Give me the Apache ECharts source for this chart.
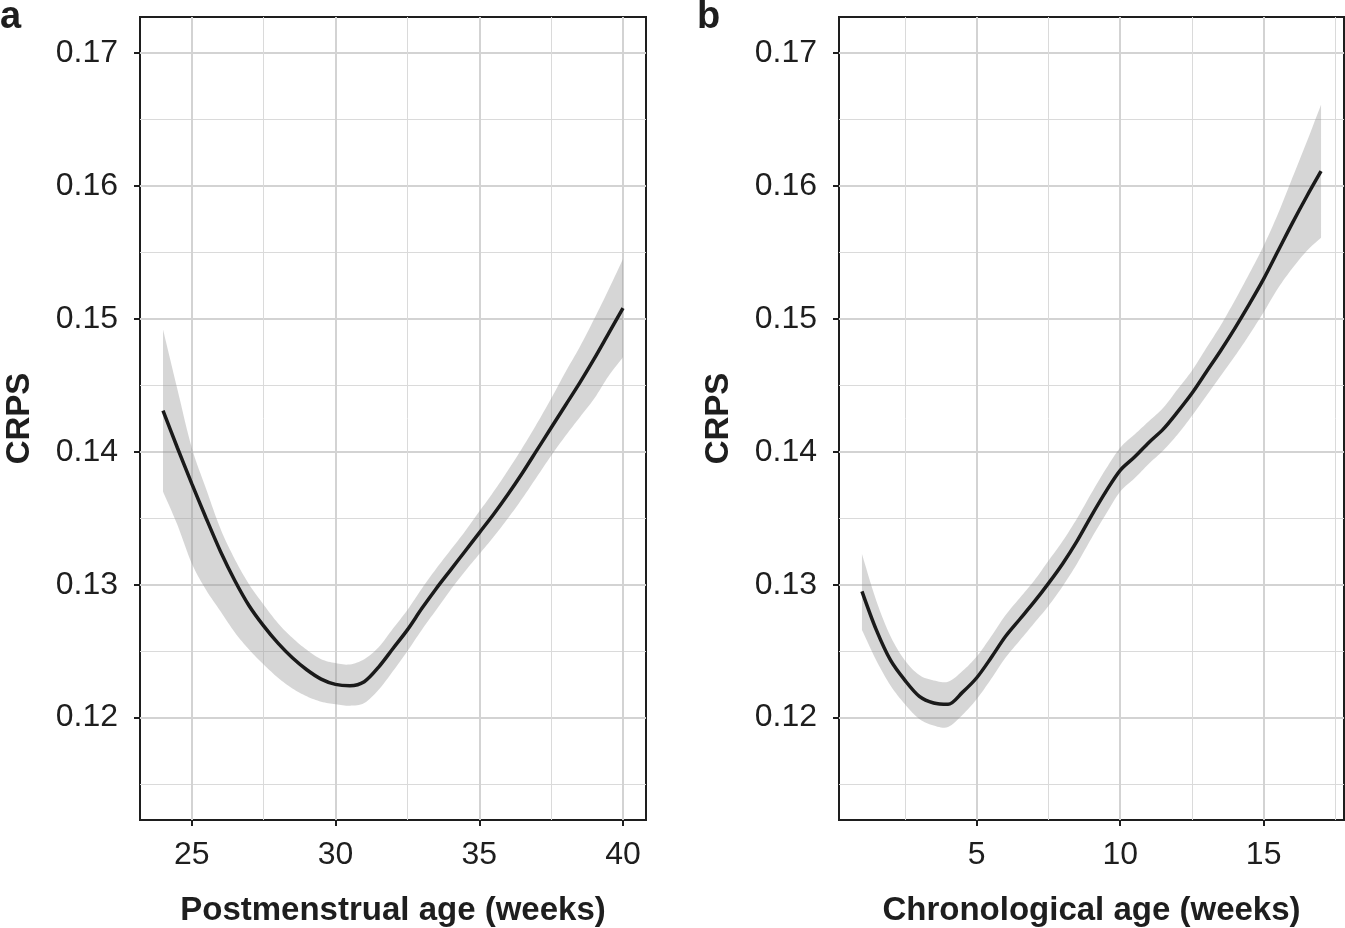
<!DOCTYPE html>
<html>
<head>
<meta charset="utf-8">
<script src="https://cdn.jsdelivr.net/npm/echarts@6/dist/echarts.min.js"></script>
<style>
html,body{margin:0;padding:0;background:#ffffff;}
#chart{width:1345px;height:928px;}
</style>
</head>
<body>
<div id="chart"></div>
<script>
// ---------- Data ----------
// Panel a: Postmenstrual age (weeks)
const pmaWeeks = [24,24.5,25,25.5,26,26.5,27,27.5,28,28.5,29,29.5,30,30.5,31,31.5,32,32.5,33,33.5,34,34.5,35,35.5,36,36.5,37,37.5,38,38.5,39,39.5,40];
const pmaFit   = [0.1431,0.1403,0.1376,0.1350,0.1325,0.1303,0.1284,0.1269,0.1256,0.1245,0.1236,0.1229,0.1225,0.1224,0.1227,0.1238,0.1252,0.1266,0.1282,0.1297,0.1311,0.1325,0.1339,0.1353,0.1368,0.1384,0.1401,0.1418,0.1435,0.1452,0.1470,0.1489,0.1508];
const pmaUpper = [0.1492,0.1447,0.1403,0.1372,0.1342,0.1319,0.1300,0.1285,0.1271,0.1260,0.1251,0.1244,0.1241,0.1240,0.1244,0.1253,0.1267,0.1281,0.1297,0.1312,0.1326,0.1340,0.1355,0.1370,0.1386,0.1403,0.1421,0.1440,0.1460,0.1479,0.1500,0.1522,0.1545];
const pmaLower = [0.1370,0.1345,0.1316,0.1296,0.1280,0.1264,0.1251,0.1240,0.1230,0.1222,0.1216,0.1212,0.1210,0.1209,0.1211,0.1221,0.1235,0.1250,0.1266,0.1281,0.1296,0.1310,0.1323,0.1336,0.1350,0.1365,0.1381,0.1397,0.1412,0.1426,0.1440,0.1457,0.1471];

// Panel b: Chronological age (weeks)
const caWeeks = [1,1.5,2,2.5,3,3.5,4,4.5,5,5.5,6,6.5,7,7.5,8,8.5,9,9.5,10,10.5,11,11.5,12,12.5,13,13.5,14,14.5,15,15.5,16,16.5,17];
const caFit   = [0.1295,0.1266,0.1243,0.1228,0.1216,0.1211,0.1210,0.1219,0.1230,0.1245,0.1261,0.1274,0.1287,0.1301,0.1316,0.1333,0.1352,0.1370,0.1386,0.1396,0.1407,0.1417,0.1430,0.1444,0.1460,0.1476,0.1493,0.1511,0.1530,0.1551,0.1572,0.1592,0.1611];
const caUpper = [0.1323,0.1288,0.1261,0.1243,0.1232,0.1228,0.1227,0.1235,0.1246,0.1261,0.1277,0.1290,0.1303,0.1318,0.1333,0.1350,0.1369,0.1387,0.1403,0.1413,0.1423,0.1433,0.1447,0.1461,0.1478,0.1495,0.1514,0.1534,0.1555,0.1579,0.1606,0.1633,0.1661];
const caLower = [0.1266,0.1243,0.1224,0.1210,0.1199,0.1194,0.1193,0.1202,0.1214,0.1229,0.1245,0.1258,0.1271,0.1284,0.1299,0.1316,0.1335,0.1353,0.1370,0.1380,0.1391,0.1401,0.1413,0.1427,0.1442,0.1457,0.1472,0.1488,0.1505,0.1523,0.1538,0.1551,0.1561];

// Tick values
const yMajorTicks = [0.12,0.13,0.14,0.15,0.16,0.17];
const yMinorTicks = [0.115,0.125,0.135,0.145,0.155,0.165];
const pmaMajorTicks = [25,30,35,40];
const pmaMinorTicks = [27.5,32.5,37.5];
const caMajorTicks = [5,10,15];
const caMinorTicks = [2.5,7.5,12.5,17.5];

const yName = 'CRPS';
const pmaName = 'Postmenstrual age (weeks)';
const caName = 'Chronological age (weeks)';
const panelLetters = ['a','b'];

// ---------- Styling ----------
const FONT = "'Liberation Sans', Arial, Helvetica, sans-serif";
const INK = '#1e1e1e';
const GRID_MAJOR = '#d3d3d3';
const GRID_MINOR = '#dadada';
const BAND = 'rgba(153,153,153,0.4)';

function majorX(gridIndex, min, max, ticks, name) {
  return {
    type: 'value', gridIndex: gridIndex, min: min, max: max, position: 'bottom',
    name: name, nameLocation: 'middle', nameGap: 74,
    nameTextStyle: {fontFamily: FONT, fontWeight: 'bold', fontSize: 33, color: INK},
    axisLine: {show: false},
    axisTick: {show: true, customValues: ticks, length: 6, lineStyle: {color: INK, width: 2}},
    axisLabel: {show: true, customValues: ticks, margin: 19, fontFamily: FONT, fontSize: 32, color: INK},
    splitLine: {show: true, lineStyle: {color: GRID_MAJOR, width: 2}},
    minorTick: {show: false}, minorSplitLine: {show: false}
  };
}
function minorX(gridIndex, min, max, ticks) {
  return {
    type: 'value', gridIndex: gridIndex, min: min, max: max, position: 'top',
    axisLine: {show: false},
    axisTick: {show: false, customValues: ticks},
    axisLabel: {show: false, customValues: ticks},
    splitLine: {show: true, lineStyle: {color: GRID_MINOR, width: 1}}
  };
}
function majorY(gridIndex, min, max, ticks, name) {
  return {
    type: 'value', gridIndex: gridIndex, min: min, max: max, position: 'left',
    name: name, nameLocation: 'middle', nameGap: 104, nameRotate: 90,
    nameTextStyle: {fontFamily: FONT, fontWeight: 'bold', fontSize: 33, color: INK},
    axisLine: {show: false},
    axisTick: {show: true, customValues: ticks, length: 6, lineStyle: {color: INK, width: 2}},
    axisLabel: {show: true, customValues: ticks, margin: 22, fontFamily: FONT, fontSize: 32, color: INK,
      formatter: function (v) { return Number(v).toFixed(2); }},
    splitLine: {show: true, lineStyle: {color: GRID_MAJOR, width: 2}},
    minorTick: {show: false}, minorSplitLine: {show: false}
  };
}
function minorY(gridIndex, min, max, ticks) {
  return {
    type: 'value', gridIndex: gridIndex, min: min, max: max, position: 'right',
    axisLine: {show: false},
    axisTick: {show: false, customValues: ticks},
    axisLabel: {show: false, customValues: ticks},
    splitLine: {show: true, lineStyle: {color: GRID_MINOR, width: 1}}
  };
}

// Catmull-Rom smoothing of already projected pixel points (rendering only)
function smoothPts(p) {
  const out = [];
  const n = p.length, S = 8;
  for (let i = 0; i < n - 1; i++) {
    const p0 = p[Math.max(i - 1, 0)], p1 = p[i], p2 = p[i + 1], p3 = p[Math.min(i + 2, n - 1)];
    for (let k = 0; k < S; k++) {
      const t = k / S, t2 = t * t, t3 = t2 * t;
      const f = function (a, b, c, d) {
        return 0.5 * ((2 * b) + (-a + c) * t + (2 * a - 5 * b + 4 * c - d) * t2 + (-a + 3 * b - 3 * c + d) * t3);
      };
      out.push([f(p0[0], p1[0], p2[0], p3[0]), f(p0[1], p1[1], p2[1], p3[1])]);
    }
  }
  out.push(p[n - 1]);
  return out;
}
function bandSeries(xAxisIndex, yAxisIndex, xs, lo, hi) {
  return {
    type: 'custom', coordinateSystem: 'cartesian2d',
    xAxisIndex: xAxisIndex, yAxisIndex: yAxisIndex, z: 2, silent: true, clip: true,
    data: xs.map(function (x, i) { return [x, lo[i], hi[i]]; }),
    encode: {x: 0, y: [1, 2]},
    renderItem: function (params, api) {
      if (params.dataIndex !== 0) return null;
      const up = xs.map(function (x, i) { return api.coord([x, hi[i]]); });
      const dn = xs.map(function (x, i) { return api.coord([x, lo[i]]); });
      const pts = smoothPts(up).concat(smoothPts(dn).reverse());
      return {type: 'polygon', shape: {points: pts}, style: {fill: BAND}};
    }
  };
}
function fitSeries(xAxisIndex, yAxisIndex, xs, ys) {
  return {
    type: 'line', xAxisIndex: xAxisIndex, yAxisIndex: yAxisIndex, z: 3, silent: true,
    data: xs.map(function (x, i) { return [x, ys[i]]; }),
    showSymbol: false, smooth: 0.3,
    lineStyle: {color: '#1a1a1a', width: 3.5, cap: 'butt'}
  };
}

const Y_MIN = 0.1123, Y_MAX = 0.1727;

const option = {
  animation: false,
  backgroundColor: '#ffffff',
  grid: [
    {left: 140, top: 17, width: 506, height: 803, show: true, borderColor: INK, borderWidth: 2, backgroundColor: 'transparent', containLabel: false, outerBoundsMode: 'none'},
    {left: 839, top: 17, width: 505, height: 803, show: true, borderColor: INK, borderWidth: 2, backgroundColor: 'transparent', containLabel: false, outerBoundsMode: 'none'}
  ],
  xAxis: [
    majorX(0, 23.2, 40.8, pmaMajorTicks, pmaName),
    minorX(0, 23.2, 40.8, pmaMinorTicks),
    majorX(1, 0.2, 17.8, caMajorTicks, caName),
    minorX(1, 0.2, 17.8, caMinorTicks)
  ],
  yAxis: [
    majorY(0, Y_MIN, Y_MAX, yMajorTicks, yName),
    minorY(0, Y_MIN, Y_MAX, yMinorTicks),
    majorY(1, Y_MIN, Y_MAX, yMajorTicks, yName),
    minorY(1, Y_MIN, Y_MAX, yMinorTicks)
  ],
  graphic: [
    {type: 'text', left: 0, top: -1, style: {text: panelLetters[0], font: "bold 38px 'Liberation Sans', Arial, sans-serif", fill: INK}},
    {type: 'text', left: 697, top: -1, style: {text: panelLetters[1], font: "bold 38px 'Liberation Sans', Arial, sans-serif", fill: INK}}
  ],
  series: [
    bandSeries(0, 0, pmaWeeks, pmaLower, pmaUpper),
    fitSeries(0, 0, pmaWeeks, pmaFit),
    bandSeries(2, 2, caWeeks, caLower, caUpper),
    fitSeries(2, 2, caWeeks, caFit)
  ]
};

const chart = echarts.init(document.getElementById('chart'), null, {renderer: 'canvas'});
chart.setOption(option);
</script>
</body>
</html>
